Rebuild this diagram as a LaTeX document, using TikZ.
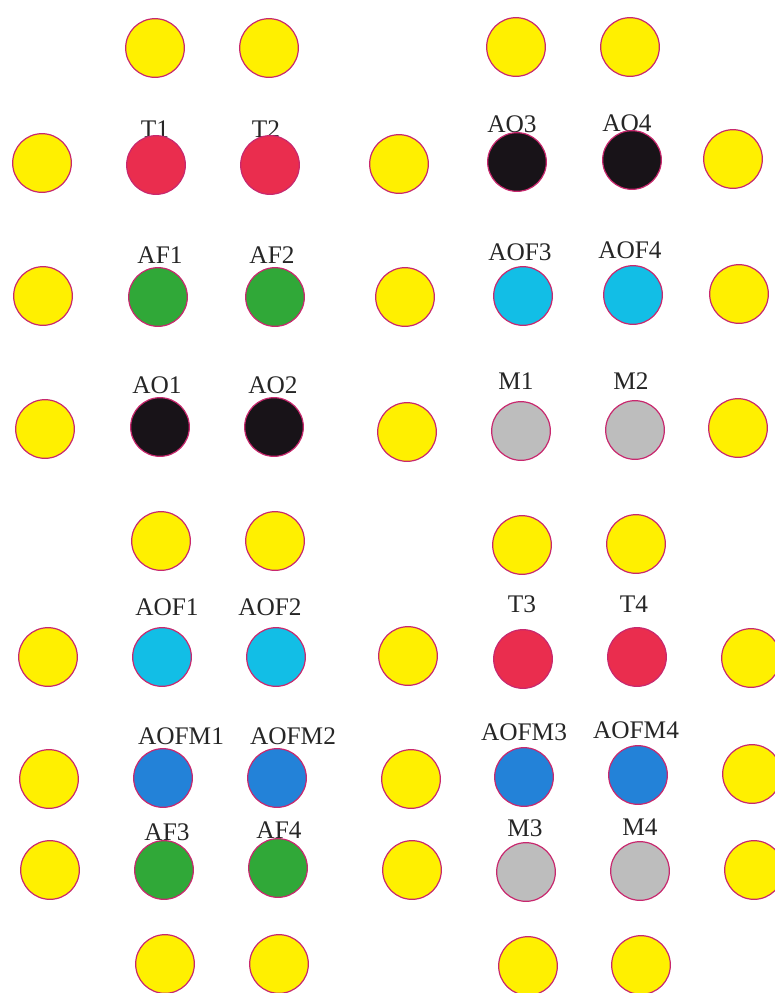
\documentclass[tikz,border=0pt]{standalone}
\usepackage{fontspec}
\setmainfont{Liberation Serif}
\usepackage{tikz}
\usetikzlibrary{positioning}
\usepackage{xcolor}
\definecolor{rim}{HTML}{C8286E}
\definecolor{sun}{HTML}{FFF000}
\definecolor{cherry}{HTML}{EA2D4E}
\definecolor{leaf}{HTML}{30A838}
\definecolor{coal}{HTML}{181318}
\definecolor{sky}{HTML}{12BEE6}
\definecolor{ocean}{HTML}{2382D8}
\definecolor{ash}{HTML}{BDBDBD}
\tikzset{
  pnode/.style={circle,draw=rim,minimum size=44pt,inner sep=0pt,line width=0.9pt},
  ynode/.style={pnode,fill=sun},
  tnode/.style={pnode,fill=cherry},
  afnode/.style={pnode,fill=leaf},
  aonode/.style={pnode,fill=coal},
  aofnode/.style={pnode,fill=sky},
  aofmnode/.style={pnode,fill=ocean},
  mnode/.style={pnode,fill=ash},
  lbl/.style={anchor=base,inner sep=0pt,text=black!85,font=\fontsize{19pt}{22pt}\selectfont},
}
\begin{document}
\begin{tikzpicture}[x=0.75pt,y=-0.75pt]
  \useasboundingbox (0,0) rectangle (775,993);
  % labels
  \node[lbl] (lT1) at (155,137){T1}; \node[lbl] (lT2) at (266,137){T2};
  \node[lbl] (lAO3) at (512,132){AO3}; \node[lbl] (lAO4) at (627,131){AO4};
  \node[lbl] (lAF1) at (160,263){AF1}; \node[lbl] (lAF2) at (272,263){AF2};
  \node[lbl] (lAOF3) at (520,260){AOF3}; \node[lbl] (lAOF4) at (630,258){AOF4};
  \node[lbl] (lAO1) at (157,393){AO1}; \node[lbl] (lAO2) at (273,393){AO2};
  \node[lbl] (lM1) at (516,389){M1}; \node[lbl] (lM2) at (631,389){M2};
  \node[lbl] (lAOF1) at (167,615){AOF1}; \node[lbl] (lAOF2) at (270,615){AOF2};
  \node[lbl] (lT3) at (522,612){T3}; \node[lbl] (lT4) at (634,612){T4};
  \node[lbl] (lAOFM1) at (181,744){AOFM1}; \node[lbl] (lAOFM2) at (293,744){AOFM2};
  \node[lbl] (lAOFM3) at (524,740){AOFM3}; \node[lbl] (lAOFM4) at (636,738){AOFM4};
  \node[lbl] (lAF3) at (167,840){AF3}; \node[lbl] (lAF4) at (279,838){AF4};
  \node[lbl] (lM3) at (525,836){M3}; \node[lbl] (lM4) at (640,835){M4};
  % yellow ring
  \node[ynode] (y1) at (155,48){}; \node[ynode] (y2) at (269,48){};
  \node[ynode] (y3) at (516,47){}; \node[ynode] (y4) at (630,47){};
  \node[ynode] (yL1) at (42,163){}; \node[ynode] (yM1) at (399,164){}; \node[ynode] (yR1) at (733,159){};
  \node[ynode] (yL2) at (43,296){}; \node[ynode] (yM2) at (405,297){}; \node[ynode] (yR2) at (739,294){};
  \node[ynode] (yL3) at (45,429){}; \node[ynode] (yM3) at (407,432){}; \node[ynode] (yR3) at (738,428){};
  \node[ynode] (y5) at (161,541){}; \node[ynode] (y6) at (275,541){};
  \node[ynode] (y7) at (522,545){}; \node[ynode] (y8) at (636,544){};
  \node[ynode] (yL4) at (48,657){}; \node[ynode] (yM4) at (408,656){}; \node[ynode] (yR4) at (751,658){};
  \node[ynode] (yL5) at (49,779){}; \node[ynode] (yM5) at (411,779){}; \node[ynode] (yR5) at (752,774){};
  \node[ynode] (yL6) at (50,870){}; \node[ynode] (yM6) at (412,870){}; \node[ynode] (yR6) at (754,870){};
  \node[ynode] (y9) at (165,964){}; \node[ynode] (y10) at (279,964){};
  \node[ynode] (y11) at (528,966){}; \node[ynode] (y12) at (641,965){};
  % coloured pairs
  \node[tnode] (T1) at (156,165){}; \node[tnode] (T2) at (270,165){};
  \node[aonode] (AO3) at (517,162){}; \node[aonode] (AO4) at (632,160){};
  \node[afnode] (AF1) at (158,297){}; \node[afnode] (AF2) at (275,297){};
  \node[aofnode] (AOF3) at (523,296){}; \node[aofnode] (AOF4) at (633,295){};
  \node[aonode] (AO1) at (160,427){}; \node[aonode] (AO2) at (274,427){};
  \node[mnode] (M1) at (521,431){}; \node[mnode] (M2) at (635,430){};
  \node[aofnode] (AOF1) at (162,657){}; \node[aofnode] (AOF2) at (276,657){};
  \node[tnode] (T3) at (523,659){}; \node[tnode] (T4) at (637,657){};
  \node[aofmnode] (AOFM1) at (163,778){}; \node[aofmnode] (AOFM2) at (277,778){};
  \node[aofmnode] (AOFM3) at (524,777){}; \node[aofmnode] (AOFM4) at (638,775){};
  \node[afnode] (AF3) at (164,870){}; \node[afnode] (AF4) at (278,868){};
  \node[mnode] (M3) at (526,872){}; \node[mnode] (M4) at (640,871){};
\end{tikzpicture}
\end{document}
